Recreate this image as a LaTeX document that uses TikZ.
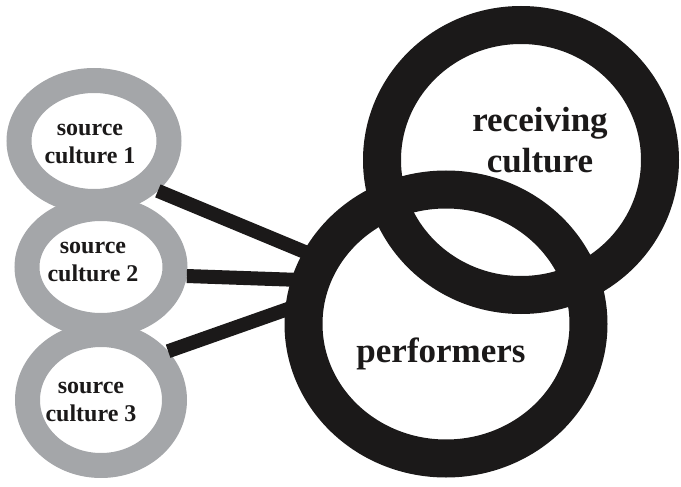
\documentclass[tikz,border=0pt]{standalone}
\usepackage{fontspec}
\setmainfont{Liberation Serif}
\usetikzlibrary{shapes.geometric}
\definecolor{ringgray}{RGB}{164,166,169}
\definecolor{ringblack}{RGB}{27,25,25}
\tikzset{
  srcring/.style={ellipse,draw=ringgray,line width=25pt,inner sep=0pt},
  bigring/.style={ellipse,draw=ringblack,line width=38pt,inner sep=0pt},
  lbl/.style={align=center,text=ringblack,inner sep=0pt,font=\bfseries\fontsize{24}{28.5}\selectfont},
  biglbl/.style={lbl,font=\bfseries\fontsize{35}{41}\selectfont},
  link/.style={draw=ringblack,line width=14pt,shorten >=-8pt}
}
\begin{document}
\begin{tikzpicture}[x=1pt,y=-1pt]
\useasboundingbox (0,0) rectangle (681,487);
\node[srcring,minimum width=150pt,minimum height=121pt] (src1) at (94,141) {};
\node[srcring,minimum width=148pt,minimum height=117pt] (src2) at (101,267) {};
\node[srcring,minimum width=147pt,minimum height=131pt] (src3) at (101,400) {};
\node[bigring,minimum width=278pt,minimum height=270pt] (recv) at (521,160) {};
\node[bigring,minimum width=285pt,minimum height=269pt] (perf) at (446,324) {};
\node[lbl] (src1lbl) at (90,144) {source\\culture 1};
\node[lbl] (src2lbl) at (93,262) {source\\culture 2};
\node[lbl] (src3lbl) at (91,402) {source\\culture 3};
\node[biglbl] (recvlbl) at (540,140) {receiving\\culture};
\node[biglbl] (perflbl) at (441,354) {performers};
\draw[link] (src1.-38) -- (perf.153);
\draw[link] (src2.-6) -- (perf.164);
\draw[link] (src3.36) -- (perf.175);
\end{tikzpicture}
\end{document}
